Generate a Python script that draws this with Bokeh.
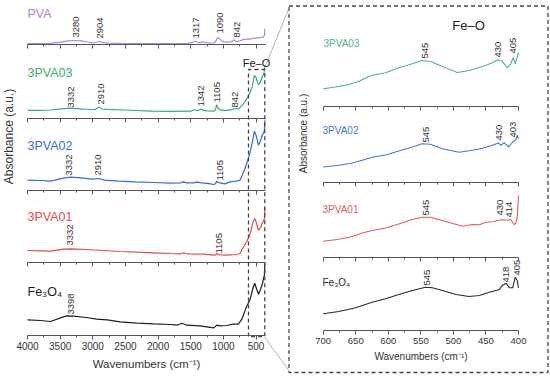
import numpy as np
from bokeh.plotting import figure
from bokeh.models import Range1d, LinearAxis, FixedTicker, ColumnDataSource
from bokeh.core.properties import value
from bokeh.embed import file_html
from bokeh.resources import INLINE

# ---------------- data (absorbance in arbitrary units) -------------
full_ticks = [4000, 3500, 3000, 2500, 2000, 1500, 1000, 500]
full_minor = [3750, 3250, 2750, 2250, 1750, 1250, 750]
zoom_ticks = [700, 650, 600, 550, 500, 450, 400]
zoom_minor = [675, 625, 575, 525, 475, 425]

pva_wn = [4000, 3800, 3650, 3480, 3380, 3280, 3180, 3080, 2990, 2904, 2840, 2760, 2500, 2200, 1900, 1700,
          1550, 1470, 1430, 1390, 1350, 1317, 1270, 1200, 1140, 1110, 1090, 1060, 1030, 990, 940, 890, 860,
          842, 815, 770, 720, 680, 640, 600, 560, 520, 480, 440, 410, 390, 375, 368, 365]
pva_abs = [0.8, 0.9, 1.2, 2.4, 3.6, 4.0, 3.6, 2.5, 1.5, 3.0, 1.8, 1.3, 1.0, 0.9, 0.8, 0.8,
           1.0, 2.2, 3.2, 2.2, 1.9, 2.8, 1.8, 1.5, 1.6, 4.0, 7.0, 5.8, 3.8, 2.6, 2.4, 2.6, 3.4,
           4.7, 3.2, 3.0, 4.4, 5.2, 5.4, 5.3, 5.8, 6.4, 6.7, 6.9, 7.1, 7.6, 8.5, 11.0, 16.0]

p03_wn = [4000, 3800, 3650, 3450, 3332, 3200, 3050, 2960, 2910, 2860, 2780, 2500, 2100, 1800, 1500, 1450,
          1400, 1342, 1300, 1230, 1150, 1120, 1105, 1080, 1040, 990, 940, 880, 842, 800, 760, 720, 692,
          641, 590, 560, 525, 500, 480, 463, 440, 420, 400, 385, 375, 368, 365]
p03_abs = [7.7, 7.7, 8.0, 9.3, 9.8, 9.2, 8.5, 8.6, 11.0, 9.0, 8.7, 8.0, 6.9, 6.7, 6.8, 8.3,
           7.2, 9.0, 7.6, 7.0, 6.8, 8.5, 13.3, 9.5, 7.8, 7.6, 7.7, 8.3, 9.2, 9.3, 9.6, 12.0, 14.3,
           19.3, 26.0, 31.0, 42.7, 40.5, 36.0, 33.5, 35.0, 38.5, 42.0, 43.7, 46.0, 50.0, 53.0]

p02_wn = [4000, 3800, 3650, 3450, 3332, 3150, 3000, 2910, 2820, 2600, 2350, 2070, 1810, 1660, 1610, 1560,
          1460, 1410, 1330, 1220, 1150, 1120, 1105, 1080, 1050, 975, 900, 800, 745, 692, 641, 590, 545,
          525, 500, 463, 430, 400, 385, 372, 365]
p02_abs = [10.0, 9.7, 9.0, 12.0, 13.0, 12.0, 11.0, 11.7, 10.0, 9.0, 8.3, 7.7, 7.0, 7.3, 8.3, 7.3,
           7.3, 8.0, 7.3, 6.5, 5.7, 6.5, 9.0, 7.8, 7.3, 6.3, 8.3, 9.0, 10.0, 18.0, 27.0, 38.0, 52.0,
           59.0, 55.0, 45.0, 50.0, 56.0, 57.0, 60.0, 70.0]

p01_wn = [4000, 3800, 3650, 3450, 3332, 3100, 2830, 2580, 2320, 2070, 1810, 1660, 1610, 1560, 1300, 1150,
          1120, 1105, 1080, 1050, 950, 800, 745, 692, 641, 590, 545, 520, 490, 463, 430, 400, 385, 372, 365]
p01_abs = [12.0, 11.7, 11.3, 13.3, 13.7, 13.0, 12.0, 11.0, 10.3, 9.7, 9.0, 8.7, 9.7, 8.7, 8.3, 7.3,
           7.6, 9.0, 7.9, 7.7, 7.3, 8.0, 9.0, 15.7, 21.3, 29.0, 40.7, 44.0, 39.0, 32.0, 35.0, 40.0, 42.0, 44.0, 55.0]

fe_wn = [4000, 3800, 3650, 3450, 3398, 3300, 3100, 2940, 2780, 2580, 2320, 2070, 1810, 1710, 1635, 1560,
         1360, 1150, 1100, 1050, 950, 845, 770, 718, 641, 590, 545, 520, 490, 463, 430, 400, 385, 372, 365]
fe_abs = [15.3, 14.7, 13.7, 18.3, 19.3, 19.0, 17.7, 16.0, 15.3, 13.3, 12.0, 11.3, 10.7, 10.0, 12.0, 10.0,
          9.3, 7.3, 10.0, 9.3, 9.7, 11.0, 11.0, 16.0, 29.3, 36.0, 47.7, 52.0, 46.0, 41.0, 46.0, 52.0, 57.0, 60.0, 72.0]

z03_wn = [700, 676, 660, 645, 630, 620, 604, 584, 568, 548, 535, 517, 494, 476, 455, 440, 432, 425, 417,
          412, 408, 405, 402, 400]
z03_abs = [17.7, 20.0, 22.0, 25.3, 30.0, 31.7, 33.7, 38.7, 41.7, 46.0, 45.0, 40.0, 34.0, 36.0, 40.0, 43.7,
           46.7, 45.3, 38.7, 42.7, 49.0, 42.7, 49.0, 54.0]

z02_wn = [700, 676, 655, 640, 625, 604, 584, 563, 548, 535, 517, 491, 471, 455, 440, 431, 427, 422, 415,
          409, 404, 402, 400]
z02_abs = [15.0, 16.7, 19.0, 21.7, 24.7, 27.0, 31.0, 35.0, 38.3, 37.7, 33.3, 29.7, 31.7, 33.7, 36.7, 39.0,
           36.7, 39.3, 35.0, 40.0, 42.3, 46.7, 43.3]

z01_wn = [700, 676, 655, 640, 625, 604, 584, 563, 548, 535, 517, 486, 471, 460, 450, 440, 432, 425, 417,
          412, 407, 404, 402, 400]
z01_abs = [15.8, 17.8, 20.5, 24.0, 26.5, 29.0, 33.0, 37.5, 39.8, 39.8, 36.5, 30.8, 32.5, 32.2, 34.8, 35.2,
           36.5, 37.2, 36.8, 37.5, 32.5, 33.8, 40.0, 61.5]

zfe_wn = [700, 676, 650, 625, 604, 584, 563, 543, 532, 517, 496, 476, 460, 445, 430, 425, 419, 414, 409,
          405, 402, 400]
zfe_abs = [16.7, 19.0, 22.7, 28.3, 31.7, 36.0, 40.0, 43.3, 42.7, 40.0, 36.0, 34.0, 35.0, 38.3, 40.7, 45.0,
           47.3, 42.7, 42.7, 53.3, 50.0, 42.7]

names = ["PVA", "3PVA03", "3PVA02", "3PVA01", "Fe\u2083O\u2084"]
full_peaks = [["3280", "2904", "1317", "1090", "842"],
              ["3332", "2910", "1342", "1105", "842"],
              ["3332", "2910", "1105"],
              ["3332", "1105"],
              ["3398"]]
zoom_peaks = [["545", "430", "405"],
              ["545", "430", "403"],
              ["545", "430", "414"],
              ["545", "418", "405"]]

# ---------------- layout (reference pixel positions -> canvas pixels) -----------------
W, H = 550, 377
FONT = "Liberation Sans"
TXT = "#333333"
AX = "#555555"


def fx(X):
    return X


def fy(Y):
    return H - Y


def xr(wn_hi, wn_lo, X_hi, X_lo):
    a, b = fx(X_hi), fx(X_lo)
    k = (wn_hi - wn_lo) / (b - a)
    return Range1d(wn_hi + a * k, wn_lo - (W - b) * k)


def yr(Y_axis):
    base = fy(Y_axis)
    return Range1d(-base, H - base)


p = figure(width=W, height=H, x_range=Range1d(0, W), y_range=Range1d(0, H),
           output_backend="svg", toolbar_location=None, min_border=0,
           x_axis_location=None, y_axis_location=None, title_location=None)
p.outline_line_color = None
p.grid.visible = False
p.background_fill_color = "white"

p.extra_x_ranges = {"full": xr(4000, 360, 27, 264.7), "zoom": xr(700, 400, 322.7, 518)}

full_axes_Y = [44, 117.5, 189.7, 262, 334.7]
zoom_axes_Y = [106, 181.5, 256.5, 330]
yranges = {}
for i, Y in enumerate(full_axes_Y):
    yranges["f%d" % i] = yr(Y)
for i, Y in enumerate(zoom_axes_Y):
    yranges["z%d" % i] = yr(Y)
p.extra_y_ranges = yranges


def add_axis(xname, yname, ticks, minor, bounds, bottom, fsize, title, tsize):
    ax = LinearAxis(x_range_name=xname, y_range_name=yname, fixed_location=0,
                    ticker=FixedTicker(ticks=ticks, minor_ticks=minor), bounds=bounds)
    ax.axis_line_color = AX
    ax.major_tick_line_color = AX
    ax.minor_tick_line_color = AX
    ax.major_tick_out = 4
    ax.major_tick_in = 0
    ax.minor_tick_out = 2
    ax.minor_tick_in = 0
    ax.major_label_text_font = FONT
    ax.major_label_text_font_size = fsize
    ax.major_label_text_color = TXT if bottom else None
    ax.major_label_standoff = 3
    if bottom:
        ax.axis_label = title
        ax.axis_label_text_font = FONT
        ax.axis_label_text_font_size = tsize
        ax.axis_label_text_font_style = "normal"
        ax.axis_label_text_color = TXT
        ax.axis_label_standoff = 4
    p.add_layout(ax, "below")


for i in range(5):
    add_axis("full", "f%d" % i, full_ticks, full_minor, (360, 4000), i == 4, "10px",
             "Wavenumbers (cm\u207b\u00b9)", "11.5px")
for i in range(4):
    add_axis("zoom", "z%d" % i, zoom_ticks, zoom_minor, (400, 700), i == 3, "9.5px",
             "Wavenumbers (cm\u207b\u00b9)", "10px")

colors = ["#b184dc", "#38ad6f", "#2f6fcf", "#e04a4a", "#1e1e1e"]
zcolors = ["#4cb585", "#3c79d2", "#e05a5a", "#2a2a2a"]

full_series = [(pva_wn, pva_abs), (p03_wn, p03_abs), (p02_wn, p02_abs), (p01_wn, p01_abs), (fe_wn, fe_abs)]
for i, (wn, ab) in enumerate(full_series):
    p.line(wn, ab, x_range_name="full", y_range_name="f%d" % i, line_color=colors[i], line_width=1.2)

zoom_series = [(z03_wn, z03_abs), (z02_wn, z02_abs), (z01_wn, z01_abs), (zfe_wn, zfe_abs)]
for i, (wn, ab) in enumerate(zoom_series):
    p.line(wn, ab, x_range_name="zoom", y_range_name="z%d" % i, line_color=zcolors[i], line_width=1.1)

# dashed selection box on the left, connectors, and the dashed frame of the zoom panel
lx0, lx1, ly0, ly1 = 248, 264.3, 69, 336
p.line([fx(lx0), fx(lx0), fx(lx1), fx(lx1), fx(lx0)], [fy(ly1), fy(ly0), fy(ly0), fy(ly1), fy(ly1)],
       line_color="#444444", line_width=1.3, line_dash="4 3")
rx0, rx1, ry0, ry1 = 288.5, 547.5, 5.5, 372
p.line([fx(rx0), fx(rx1), fx(rx1), fx(rx0), fx(rx0)], [fy(ry0), fy(ry0), fy(ry1), fy(ry1), fy(ry0)],
       line_color="#444444", line_width=1.3, line_dash="4 3")
p.segment(x0=[fx(lx1), fx(lx1)], y0=[fy(ly0 - 2), fy(ly1 + 1)], x1=[fx(rx0), fx(rx0)], y1=[fy(ry0 + 2), fy(ry1 - 2)],
          line_color="#a0a0a0", line_width=0.8)

# series names
name_pos_full = [(27, 13), (27, 72), (27, 145), (27, 216), (27, 291)]
for i, (X, Y) in enumerate(name_pos_full):
    p.text(x=[fx(X)], y=[fy(Y)], text=[names[i]], text_font=value(FONT), text_font_size="12.5px",
           text_color=colors[i], text_align="left", text_baseline="middle")
name_pos_zoom = [(323, 43), (322, 130), (322, 209), (322, 282)]
for i, (X, Y) in enumerate(name_pos_zoom):
    p.text(x=[fx(X)], y=[fy(Y)], text=[names[i + 1]], text_font=value(FONT), text_font_size="10px",
           text_color=zcolors[i], text_align="left", text_baseline="middle")

# peak labels (rotated), anchored at the bottom of each label
peak_pos_full = [[(75, 37), (99, 38), (195, 38), (219, 33), (236, 37)],
                 [(70, 107), (100, 104), (200, 106), (216, 102), (234, 107)],
                 [(68, 175), (97, 175), (219, 180)],
                 [(69, 245), (218, 253)],
                 [(70, 314)]]
peak_pos_zoom = [[(424, 58), (497.7, 57), (512.7, 53)],
                 [(425, 142), (498, 140), (512, 137)],
                 [(425, 215), (499, 215), (508, 217)],
                 [(426, 285), (505, 282), (516.7, 275)]]
for labels, poss in list(zip(full_peaks, peak_pos_full)) + list(zip(zoom_peaks, peak_pos_zoom)):
    src = ColumnDataSource(dict(x=[fx(X) for X, _ in poss], y=[fy(Y) for _, Y in poss], t=labels))
    p.text(x="x", y="y", text="t", source=src, angle=np.pi / 2, text_font=value(FONT),
           text_font_size="9.5px", text_color=TXT, text_align="left", text_baseline="middle")

# Fe–O titles and y-axis titles
p.text(x=[fx(256)], y=[fy(62)], text=["Fe\u2013O"], text_font=value(FONT), text_font_size="11px",
       text_color="#222222", text_align="center", text_baseline="middle")
p.text(x=[fx(468)], y=[fy(25)], text=["Fe\u2013O"], text_font=value(FONT), text_font_size="13px",
       text_color="#222222", text_align="center", text_baseline="middle")
p.text(x=[fx(8)], y=[fy(136)], text=["Absorbance (a.u.)"], angle=np.pi / 2, text_font=value(FONT),
       text_font_size="12px", text_color=TXT, text_align="center", text_baseline="middle")
p.text(x=[fx(303)], y=[fy(133)], text=["Absorbance (a.u.)"], angle=np.pi / 2, text_font=value(FONT),
       text_font_size="10px", text_color=TXT, text_align="center", text_baseline="middle")

open("out.html", "w").write(file_html(p, INLINE))
